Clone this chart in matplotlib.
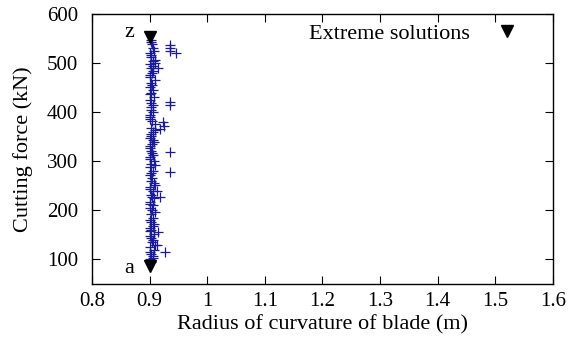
import matplotlib
matplotlib.use("Agg")
import matplotlib.pyplot as plt

# Pareto points: radius of curvature (m) vs cutting force (kN)
main_y = [95, 100, 108, 112, 120, 125, 135, 140, 148, 152,
          160, 165, 172, 180, 185, 192, 200, 205, 210, 218,
          225, 232, 240, 248, 252, 260, 265, 272, 280, 288,
          295, 300, 305, 312, 320, 328, 335, 340, 348, 352,
          360, 368, 375, 382, 390, 395, 400, 410, 418, 425,
          432, 440, 445, 452, 460, 465, 472, 480, 485, 490,
          498, 505, 512, 520, 530, 540, 548,
          104, 116, 130, 144, 157, 169, 177, 196, 214, 228,
          244, 256, 276, 292, 309, 316, 332, 344, 356, 364,
          386, 405, 414, 438, 456, 476, 494, 516, 525, 544]
main_x = [0.902, 0.900, 0.905, 0.903, 0.908, 0.901, 0.904, 0.906, 0.900, 0.907,
          0.903, 0.901, 0.908, 0.900, 0.905, 0.902, 0.904, 0.900, 0.906, 0.901,
          0.907, 0.903, 0.905, 0.900, 0.909, 0.902, 0.904, 0.901, 0.906, 0.900,
          0.903, 0.908, 0.900, 0.905, 0.902, 0.901, 0.904, 0.907, 0.900, 0.903,
          0.906, 0.902, 0.909, 0.904, 0.901, 0.900, 0.905, 0.903, 0.902, 0.900,
          0.907, 0.902, 0.905, 0.901, 0.903, 0.909, 0.900, 0.904, 0.906, 0.902,
          0.901, 0.905, 0.903, 0.900, 0.906, 0.904, 0.902,
          0.905, 0.901, 0.910, 0.903, 0.900, 0.906, 0.902, 0.909, 0.901, 0.904,
          0.900, 0.907, 0.903, 0.910, 0.901, 0.904, 0.900, 0.905, 0.902, 0.910,
          0.900, 0.903, 0.906, 0.900, 0.904, 0.901, 0.905, 0.902, 0.907, 0.903]
out_x = [0.935, 0.935, 0.936, 0.945, 0.909, 0.909, 0.914, 0.923, 0.925, 0.918,
         0.935, 0.935, 0.935, 0.935, 0.918, 0.913, 0.927, 0.912, 0.915]
out_y = [537, 530, 525, 520, 506, 500, 490, 380, 372, 366,
         420, 414, 318, 278, 228, 240, 116, 130, 155]

ext_x = [0.900, 0.900]
ext_y = [87, 553]
ext_labels = ["a", "z"]

x_ticks = [0.8, 0.9, 1.0, 1.1, 1.2, 1.3, 1.4, 1.5, 1.6]
x_tick_labels = ["0.8", "0.9", "1", "1.1", "1.2", "1.3", "1.4", "1.5", "1.6"]
y_ticks = [100, 200, 300, 400, 500, 600]

plt.rcParams["font.family"] = ["Liberation Serif", "DejaVu Serif"]
plt.rcParams["font.size"] = 16

fig = plt.figure(figsize=(5.73, 3.43), dpi=100)
ax = fig.add_axes([0.1606, 0.172, 0.8044, 0.787])

ax.plot(main_x + out_x, main_y + out_y, "+", color="#1a1a9c",
        markersize=7, markeredgewidth=0.9, linestyle="none")
ax.plot(ext_x, ext_y, "v", color="black", markersize=8,
        linestyle="none", label="Extreme solutions")
# point labels sit left of the triangles ("z" a little higher)
for x, y, t in zip(ext_x, ext_y, ext_labels):
    dy = 3 if t == "z" else -2
    ax.annotate(t, (x, y), xytext=(-11, dy), textcoords="offset points",
                ha="right", va="center", fontsize=16)

ax.set_xlim(0.8, 1.6)
ax.set_ylim(50, 600)
ax.set_xticks(x_ticks)
ax.set_xticklabels(x_tick_labels)
ax.set_yticks(y_ticks)
ax.tick_params(direction="in", top=True, right=True, length=6, width=0.8,
               labelsize=15)
ax.tick_params(axis="x", pad=6)
ax.tick_params(axis="y", pad=10)
ax.set_xlabel("Radius of curvature of blade (m)", labelpad=3)
ax.set_ylabel("Cutting force (kN)", labelpad=10)
for s in ax.spines.values():
    s.set_linewidth(1.0)

ax.legend(loc="upper right", bbox_to_anchor=(0.955, 1.0), frameon=False,
          markerfirst=False, handlelength=1.5, handletextpad=0.9,
          borderaxespad=0.0, fontsize=16)

fig.savefig("out.png", dpi=100)
